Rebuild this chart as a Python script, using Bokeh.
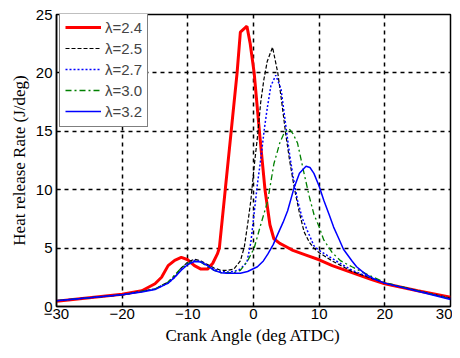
from bokeh.plotting import figure
from bokeh.models import Legend, LegendItem, FixedTicker
from bokeh.embed import file_html
from bokeh.resources import INLINE

# data
x24 = [-30, -25, -20, -17, -15, -14, -13, -12, -11, -10, -9, -8, -7, -6.2, -5.5, -5.2, -4.3, -3.4, -2.5, -2.0, -1.0, -0.5, 0.1, 0.9, 1.75, 2.5, 3.1, 4.0, 4.7, 6, 8, 10, 12, 15, 18, 20, 25, 30]
y24 = [0.45, 0.75, 1.05, 1.35, 1.95, 2.5, 3.5, 3.95, 4.2, 4.0, 3.5, 3.2, 3.2, 3.7, 4.5, 5.0, 10.0, 15.0, 20.0, 23.5, 24.0, 22.5, 20.0, 15.0, 10.0, 7.0, 5.8, 5.4, 5.2, 4.8, 4.4, 4.0, 3.5, 2.9, 2.3, 1.95, 1.35, 0.8]

x25 = [-30, -25, -20, -17, -15, -13, -12, -11, -10, -9, -8, -7, -6, -5, -4, -3, -2, -1.4, -0.9, -0.4, 0.1, 0.6, 1.1, 1.6, 2.1, 2.9, 3.7, 4.3, 4.9, 5.5, 6.2, 7.0, 7.7, 8.5, 9.2, 10, 12, 15, 20, 25, 30]
y25 = [0.5, 0.75, 1.0, 1.3, 1.5, 2.1, 2.6, 3.3, 3.8, 4.05, 3.9, 3.6, 3.3, 3.1, 3.1, 3.2, 3.9, 5.1, 7.0, 9.1, 12.0, 14.5, 17.5, 19.5, 21.0, 22.2, 20.0, 17.5, 14.8, 12.5, 10.2, 8.0, 6.4, 5.5, 5.0, 4.6, 3.9, 3.0, 2.0, 1.35, 0.7]

x27 = [-30, -25, -20, -17, -15, -13, -12, -11, -10, -9, -8, -7, -6, -5, -4, -3, -2, -1, -0.4, 0.1, 0.6, 1.1, 1.65, 2.1, 2.65, 3.4, 4.2, 4.8, 5.4, 6.0, 6.7, 7.4, 8.2, 9.2, 10, 12, 15, 20, 25, 30]
y27 = [0.5, 0.75, 1.0, 1.3, 1.5, 2.0, 2.5, 3.2, 3.7, 3.95, 3.85, 3.5, 3.2, 3.0, 2.95, 3.0, 3.2, 3.8, 5.5, 8.0, 10.5, 12.6, 15.2, 17.0, 18.9, 19.8, 18.6, 16.0, 13.4, 11.2, 9.1, 7.6, 6.5, 5.2, 4.8, 4.1, 3.1, 2.0, 1.35, 0.7]

x30 = [-30, -25, -20, -17, -15, -13, -12, -11, -10, -9, -8, -7, -6, -5, -4, -3, -2, -0.9, 0.1, 1.1, 2.15, 3.1, 4.0, 4.7, 5.45, 6.0, 6.7, 7.7, 8.5, 9.2, 10.0, 10.7, 12.0, 13.3, 15, 17.5, 20, 25, 30]
y30 = [0.5, 0.75, 1.0, 1.3, 1.5, 2.1, 2.7, 3.3, 3.7, 3.9, 3.8, 3.4, 3.1, 2.9, 2.9, 2.9, 3.1, 3.9, 5.0, 7.0, 9.0, 12.2, 14.0, 14.9, 15.2, 14.8, 14.0, 11.4, 9.4, 7.9, 6.8, 5.7, 4.6, 3.9, 3.4, 2.7, 2.05, 1.35, 0.65]

x32 = [-30, -25, -20, -17, -15, -13, -12, -11, -10, -9, -8, -7, -6, -5, -4, -3, -2, -0.9, 0.6, 1.5, 2.2, 3.0, 3.7, 4.5, 5.2, 6.2, 7.0, 8.0, 8.6, 9.2, 10.0, 10.7, 11.5, 12.2, 13.0, 13.7, 15.0, 15.7, 17.0, 18.2, 20, 25, 30]
y32 = [0.5, 0.75, 1.0, 1.25, 1.45, 2.0, 2.5, 3.1, 3.6, 3.85, 3.8, 3.5, 3.1, 2.9, 2.85, 2.85, 2.85, 3.0, 3.4, 3.9, 4.5, 5.3, 6.2, 7.2, 8.2, 10.2, 11.4, 12.0, 11.9, 11.4, 10.3, 9.1, 7.9, 6.8, 5.8, 4.9, 3.9, 3.4, 2.8, 2.4, 2.0, 1.3, 0.6]

labels = ["\u03bb=2.4", "\u03bb=2.5", "\u03bb=2.7", "\u03bb=3.0", "\u03bb=3.2"]
x_ticks = [-30, -20, -10, 0, 10, 20, 30]
y_ticks = [0, 5, 10, 15, 20, 25]

p = figure(width=452, height=346, output_backend="svg", toolbar_location=None,
           x_range=(-30, 30), y_range=(0, 25),
           frame_width=394, frame_height=292,
           min_border_left=56, min_border_right=2, min_border_top=14, min_border_bottom=40)
p.background_fill_color = "white"
p.border_fill_color = "white"
p.outline_line_color = "black"
p.outline_line_width = 1.5

serif = "Liberation Serif"
sans = "Liberation Sans"

p.xaxis.ticker = FixedTicker(ticks=x_ticks)
p.yaxis.ticker = FixedTicker(ticks=y_ticks)
for ax in (p.xaxis[0], p.yaxis[0]):
    ax.major_tick_in = 4
    ax.major_tick_out = 0
    ax.minor_tick_in = 0
    ax.minor_tick_out = 0
    ax.axis_line_color = "black"
    ax.axis_line_width = 1.5
    ax.major_tick_line_color = "black"
    ax.major_label_text_font = sans
    ax.major_label_text_font_size = "15px"
    ax.major_label_text_color = "black"
    ax.axis_label_text_font = serif
    ax.axis_label_text_font_style = "normal"
    ax.axis_label_text_font_size = "17px"
    ax.axis_label_text_color = "black"
p.xaxis.axis_label = "Crank Angle (deg ATDC)"
p.yaxis.axis_label = "Heat release Rate (J/deg)"
p.xaxis.major_label_standoff = 2
p.yaxis.major_label_standoff = 4
p.xaxis.axis_label_standoff = 4
p.yaxis.axis_label_standoff = 4

p.xgrid.ticker = FixedTicker(ticks=[-20, -10, 0, 10, 20])
p.ygrid.ticker = FixedTicker(ticks=[5, 10, 15, 20])
for g in (p.xgrid[0], p.ygrid[0]):
    g.grid_line_color = "black"
    g.grid_line_dash = "4 4"
    g.grid_line_width = 1.5

r24 = p.line(x24, y24, line_color="#ff0000", line_width=3)
r25 = p.line(x25, y25, line_color="black", line_width=1.2, line_dash="4 2")
r27 = p.line(x27, y27, line_color="#0000ff", line_width=1.5, line_dash="2 2")
r30 = p.line(x30, y30, line_color="#008000", line_width=1.3, line_dash="6 3 2 3")
r32 = p.line(x32, y32, line_color="#0000ff", line_width=1.5)

legend = Legend(items=[LegendItem(label=l, renderers=[r]) for l, r in
                       zip(labels, [r24, r25, r27, r30, r32])],
                location=(3, 179), margin=0, padding=5, spacing=1,
                glyph_width=36, glyph_height=20, label_height=20,
                label_standoff=4,
                label_text_font=sans, label_text_font_size="15px",
                border_line_color="black", border_line_width=1.5,
                background_fill_alpha=1.0)
p.add_layout(legend, "center")

open("out.html", "w").write(file_html(p, INLINE))
